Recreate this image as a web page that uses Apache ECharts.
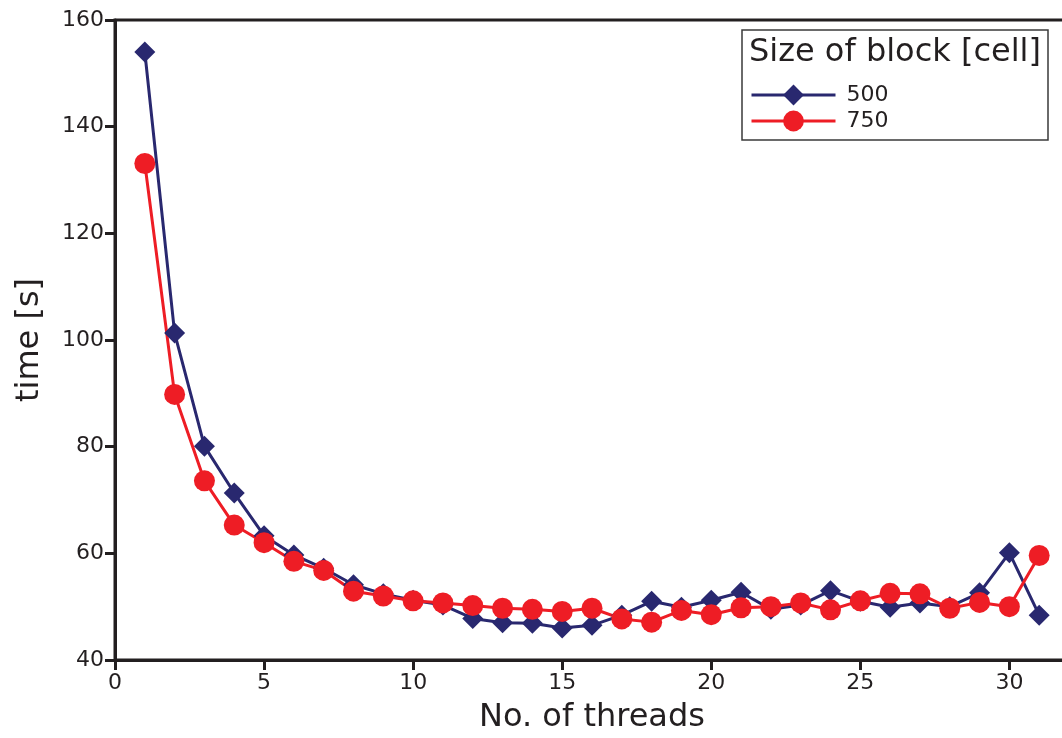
<!DOCTYPE html>
<html>
<head>
<meta charset="utf-8">
<script src="https://cdn.jsdelivr.net/npm/echarts@6/dist/echarts.min.js"></script>
<style>
  html, body { margin: 0; padding: 0; background: #fff; }
  #chart { width: 1062px; height: 738px; }
</style>
</head>
<body>
<div id="chart"></div>
<script>
// data
var threads = [1, 2, 3, 4, 5, 6, 7, 8, 9, 10, 11, 12, 13, 14, 15, 16,
  17, 18, 19, 20, 21, 22, 23, 24, 25, 26, 27, 28, 29, 30, 31]
var time500 = [154, 101.3, 80.1, 71.3, 63.3, 59.7, 57.2, 54.1, 52.4, 51.2,
  50.3, 47.8, 47.0, 46.9, 46.0, 46.5, 48.4, 51.0, 49.9, 51.2,
  52.7, 49.5, 50.3, 53.0, 51.0, 49.9, 50.7, 50.0, 52.6, 60.1, 48.4]
var time750 = [133.1, 89.8, 73.6, 65.3, 62.0, 58.5, 56.8, 52.9, 52.0, 51.1,
  50.7, 50.2, 49.7, 49.5, 49.1, 49.7, 47.7, 47.1, 49.3, 48.5,
  49.8, 50.0, 50.7, 49.4, 51.1, 52.5, 52.4, 49.7, 50.8, 50.0, 59.6]
var seriesNames = ['500', '750']
var legendTitle = 'Size of block [cell]'

var ink = '#231f20'
var font = 'DejaVu Sans'
var blue = '#29286f'
var red = '#ee1d25'

function pairs (ys) {
  return threads.map(function (x, i) { return [x, ys[i]] })
}

var chart = echarts.init(document.getElementById('chart'), null, { renderer: 'canvas' })

chart.setOption({
  animation: false,
  backgroundColor: '#fff',
  textStyle: { fontFamily: font, color: ink },
  grid: {
    left: 115,
    top: 20,
    width: 954,
    height: 640,
    outerBoundsMode: 'none',
    containLabel: false,
    show: true,
    borderColor: ink,
    borderWidth: 3,
    backgroundColor: 'transparent'
  },
  // legend frame and title
  graphic: [
    {
      type: 'rect',
      shape: { x: 742, y: 30, width: 306, height: 110 },
      style: { fill: '#fff', stroke: '#3a3a3a', lineWidth: 1.5 },
      z: 10
    },
    {
      type: 'text',
      left: 749,
      top: 37,
      style: { text: legendTitle, fontFamily: font, fontSize: 32, fill: ink },
      z: 11
    }
  ],
  legend: {
    left: 750,
    top: 84,
    padding: 0,
    orient: 'vertical',
    itemWidth: 84,
    itemHeight: 26,
    itemGap: 4,
    z: 12,
    textStyle: { fontFamily: font, fontSize: 22, color: ink, padding: [0, 0, 0, 6] },
    data: [
      { name: seriesNames[0], lineStyle: { width: 3 } },
      { name: seriesNames[1], lineStyle: { width: 3 } }
    ]
  },
  xAxis: {
    type: 'value',
    min: 0,
    max: 32,
    interval: 5,
    name: 'No. of threads',
    nameLocation: 'middle',
    nameGap: 42,
    nameTextStyle: { fontFamily: font, fontSize: 32, color: ink },
    axisLine: { lineStyle: { color: ink, width: 3 } },
    axisTick: { length: 10, lineStyle: { color: ink, width: 3 } },
    axisLabel: {
      fontSize: 22,
      color: ink,
      margin: 12,
      showMaxLabel: false,
      formatter: function (v) { return v % 5 === 0 ? String(v) : '' }
    },
    splitLine: { show: false }
  },
  yAxis: {
    type: 'value',
    min: 40,
    max: 160,
    interval: 20,
    name: 'time [s]',
    nameLocation: 'middle',
    nameGap: 69,
    nameTextStyle: { fontFamily: font, fontSize: 32, color: ink },
    axisLine: { lineStyle: { color: ink, width: 3 } },
    axisTick: { length: 10, lineStyle: { color: ink, width: 3 } },
    axisLabel: { fontSize: 22, color: ink, margin: 11 },
    splitLine: { show: false }
  },
  series: [
    {
      name: seriesNames[0],
      type: 'line',
      data: pairs(time500),
      symbol: 'diamond',
      symbolSize: 21,
      color: blue,
      lineStyle: { color: blue, width: 3 },
      itemStyle: { color: blue }
    },
    {
      name: seriesNames[1],
      type: 'line',
      data: pairs(time750),
      symbol: 'circle',
      symbolSize: 21,
      color: red,
      lineStyle: { color: red, width: 3 },
      itemStyle: { color: red }
    }
  ]
})
</script>
</body>
</html>
